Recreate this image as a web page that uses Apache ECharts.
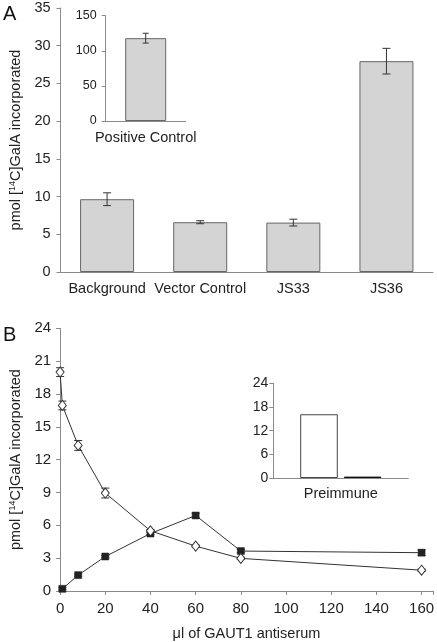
<!DOCTYPE html>
<html><head><meta charset="utf-8">
<script src="https://cdn.jsdelivr.net/npm/echarts@6/dist/echarts.min.js"></script>
<style>html,body{margin:0;padding:0;background:#fff}#c{width:437px;height:642px}</style>
</head><body><div id="c"></div>
<script>
// Panel A
const catsA = ['Background', 'Vector Control', 'JS33', 'JS36'];
const valsA = [9.65, 6.6, 6.55, 27.95];
const errA = [0.85, 0.2, 0.45, 1.7];
const catPos = ['Positive Control'];
const valPos = [118];
const errPos = [7];
// Panel B
const doseOpen = [0, 1, 8, 20, 40, 60, 80, 160];
const openVals = [20.0, 16.95, 13.3, 8.95, 5.5, 4.1, 2.98, 1.9];
const openErr = [0.4, 0.4, 0.45, 0.45, 0.12, 0.1, 0.1, 0.1];
const doseFilled = [1, 8, 20, 40, 60, 80, 160];
const filledVals = [0.2, 1.45, 3.15, 5.25, 6.9, 3.65, 3.5];
const filledErr = [0.1, 0.1, 0.1, 0.1, 0.2, 0.15, 0.25];
const preCats = ['Preimmune'];
const preOpen = [16.15];
const preFilled = [0.35];

const FONT = "'Liberation Sans', Arial, sans-serif";
const AX = '#8a8a8a';
const TXT = '#222';

function errRender(cap) {
  return function (params, api) {
    const x = api.value(0);
    const lo = api.coord([x, api.value(1)]);
    const hi = api.coord([x, api.value(2)]);
    const st = { stroke: '#333', lineWidth: 1 };
    return { type: 'group', children: [
      { type: 'line', shape: { x1: lo[0], y1: lo[1], x2: hi[0], y2: hi[1] }, style: st },
      { type: 'line', shape: { x1: lo[0] - cap, y1: lo[1], x2: lo[0] + cap, y2: lo[1] }, style: st },
      { type: 'line', shape: { x1: hi[0] - cap, y1: hi[1], x2: hi[0] + cap, y2: hi[1] }, style: st }
    ]};
  };
}
function errData(xs, vals, errs) { return vals.map((v, i) => [xs[i], v - errs[i], v + errs[i]]); }

const catAx = (gi, data, margin, fs) => ({
  type: 'category', gridIndex: gi, data: data,
  axisLine: { lineStyle: { color: AX, width: 1 } }, axisTick: { show: false },
  axisLabel: { color: TXT, fontSize: fs, fontFamily: FONT, margin: margin, interval: 0 }
});
const valAx = (gi, min, max, interval, fs, margin, extra) => Object.assign({
  type: 'value', gridIndex: gi, min: min, max: max, interval: interval,
  splitLine: { show: false },
  axisLine: { show: true, lineStyle: { color: AX, width: 1 } },
  axisTick: { show: true, length: 4, lineStyle: { color: AX } },
  axisLabel: { color: TXT, fontSize: fs, fontFamily: FONT, margin: margin }
}, extra || {});

const yName = {
  name: 'pmol [{sup|14}C]GalA incorporated', nameLocation: 'middle', nameRotate: 90, nameGap: 36,
  nameTextStyle: { color: TXT, fontSize: 14.5, fontFamily: FONT,
    rich: { sup: { fontSize: 9, fontFamily: FONT, color: TXT, verticalAlign: 'top', padding: [0, 0, 7, 0] } } }
};

const option = {
  animation: false,
  backgroundColor: '#fff',
  textStyle: { fontFamily: FONT },
  grid: [
    { left: 57, top: 8, width: 376, height: 264 },
    { left: 105.7, top: 15.7, width: 80, height: 105.3 },
    { left: 56.7, top: 328.3, width: 376.3, height: 263.4 },
    { left: 273.3, top: 383.3, width: 135, height: 94.7 }
  ],
  xAxis: [
    catAx(0, catsA, 9, 14.5),
    catAx(1, catPos, 9, 14.5),
    { type: 'value', gridIndex: 2, min: 0, max: 165, interval: 20,
      splitLine: { show: false },
      axisLine: { lineStyle: { color: AX } },
      axisTick: { show: true, length: 4, lineStyle: { color: AX } },
      axisLabel: { color: TXT, fontSize: 15, fontFamily: FONT, margin: 10,
        formatter: v => (v % 20 === 0 ? String(v) : '') },
      name: 'μl of GAUT1 antiserum', nameLocation: 'middle', nameGap: 35,
      nameTextStyle: { color: TXT, fontSize: 14.5, fontFamily: FONT } },
    catAx(3, preCats, 8, 14.5)
  ],
  yAxis: [
    valAx(0, 0, 35, 5, 14.5, 10, yName),
    valAx(1, 0, 150, 50, 12.5, 9),
    valAx(2, 0, 24, 3, 15, 9, yName),
    valAx(3, 0, 24, 6, 14, 5)
  ],
  series: [
    { type: 'bar', xAxisIndex: 0, yAxisIndex: 0, data: valsA, barWidth: 54,
      itemStyle: { color: '#d4d4d4', borderColor: '#666', borderWidth: 1 } },
    { type: 'custom', xAxisIndex: 0, yAxisIndex: 0, renderItem: errRender(4),
      data: errData([0, 1, 2, 3], valsA, errA), z: 5 },
    { type: 'bar', xAxisIndex: 1, yAxisIndex: 1, data: valPos, barWidth: 41,
      itemStyle: { color: '#d4d4d4', borderColor: '#666', borderWidth: 1 } },
    { type: 'custom', xAxisIndex: 1, yAxisIndex: 1, renderItem: errRender(3),
      data: errData([0], valPos, errPos), z: 5 },
    { type: 'custom', xAxisIndex: 2, yAxisIndex: 2, renderItem: errRender(4),
      data: errData(doseOpen, openVals, openErr), z: 1 },
    { type: 'custom', xAxisIndex: 2, yAxisIndex: 2, renderItem: errRender(4),
      data: errData(doseFilled, filledVals, filledErr), z: 1 },
    { type: 'line', xAxisIndex: 2, yAxisIndex: 2,
      data: doseFilled.map((x, i) => [x, filledVals[i]]),
      symbol: 'rect', symbolSize: 7, lineStyle: { color: '#333', width: 1 },
      itemStyle: { color: '#222', borderColor: '#222', borderWidth: 0.5 }, z: 3 },
    { type: 'line', xAxisIndex: 2, yAxisIndex: 2,
      data: doseOpen.map((x, i) => [x, openVals[i]]),
      symbol: 'diamond', symbolSize: [8, 10], lineStyle: { color: '#333', width: 1 },
      itemStyle: { color: '#fff', borderColor: '#333', borderWidth: 1 }, z: 4 },
    { type: 'bar', xAxisIndex: 3, yAxisIndex: 3, data: preOpen, barWidth: 37.6, barGap: '16%',
      itemStyle: { color: '#fff', borderColor: '#444', borderWidth: 1 } },
    { type: 'bar', xAxisIndex: 3, yAxisIndex: 3, data: preFilled, barWidth: 37.6,
      itemStyle: { color: '#111', borderColor: '#111', borderWidth: 1 } }
  ],
  graphic: [
    { type: 'text', left: 3, top: 4, style: { text: 'A', fontSize: 20, fontFamily: FONT, fill: '#111' } },
    { type: 'text', left: 3, top: 325, style: { text: 'B', fontSize: 20, fontFamily: FONT, fill: '#111' } }
  ]
};
const chart = echarts.init(document.getElementById('c'), null, { renderer: 'canvas' });
chart.setOption(option);
</script></body></html>
